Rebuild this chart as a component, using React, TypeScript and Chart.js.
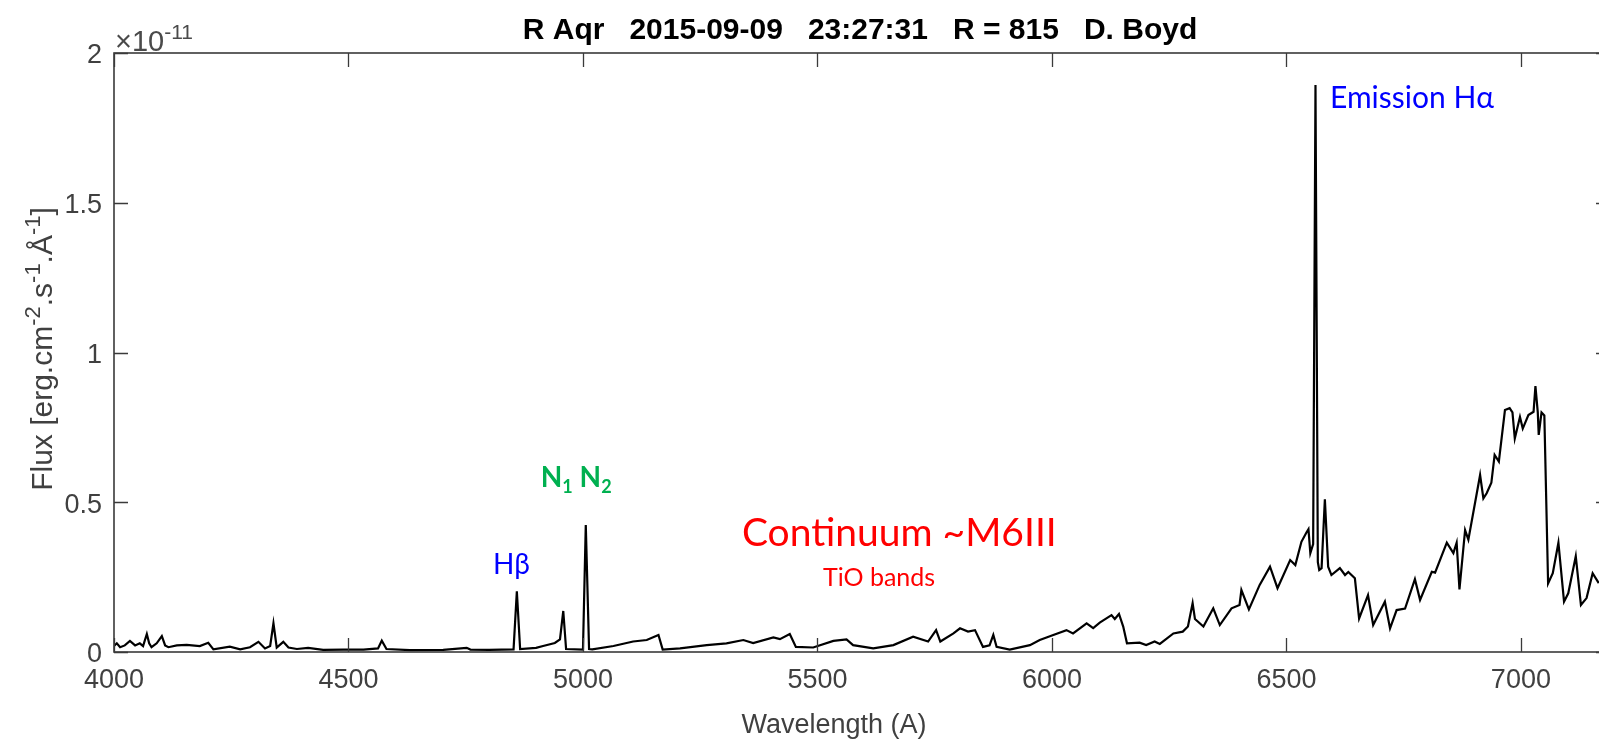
import { useEffect, useRef } from "react";
import { Chart, registerables } from "chart.js";

Chart.register(...registerables);

// Spectrum: wavelength (Angstrom) and flux (units of 1e-11 erg cm^-2 s^-1 A^-1)
const wavelengths = [
  4000, 4006, 4013, 4023, 4034, 4045, 4055, 4062, 4070, 4075, 4080, 4091, 4102, 4109, 4116, 4134,
  4155, 4183, 4201, 4212, 4247, 4269, 4290, 4308, 4322, 4333, 4340, 4347, 4361, 4372, 4390, 4414,
  4446, 4489, 4532, 4563, 4571, 4581, 4631, 4702, 4752, 4760, 4800, 4852, 4859, 4866, 4900, 4915,
  4940, 4951, 4958, 4964, 5000, 5006, 5013, 5020, 5065, 5107, 5136, 5161, 5170, 5207, 5264, 5306,
  5342, 5363, 5406, 5420, 5441, 5454, 5491, 5534, 5562, 5576, 5619, 5662, 5704, 5736, 5753, 5762,
  5790, 5804, 5821, 5836, 5853, 5867, 5875, 5882, 5910, 5953, 5974, 6000, 6031, 6045, 6074, 6088,
  6102, 6127, 6134, 6143, 6152, 6160, 6187, 6201, 6219, 6230, 6259, 6279, 6290, 6300, 6305, 6323,
  6344, 6358, 6383, 6400, 6404, 6420, 6443, 6465, 6481, 6508, 6519, 6532, 6543, 6547, 6551, 6557,
  6562, 6567, 6570, 6575, 6582, 6589, 6596, 6614, 6625, 6632, 6646, 6655, 6674, 6685, 6710, 6721,
  6735, 6753, 6774, 6785, 6810, 6817, 6842, 6856, 6863, 6869, 6881, 6888, 6913, 6920, 6927, 6937,
  6944, 6953, 6966, 6976, 6982, 6987, 6998, 7004, 7016, 7027, 7031, 7036, 7038, 7044, 7050, 7058,
  7068, 7080, 7092, 7101, 7117, 7128, 7140, 7153, 7166,
];

const flux = [
  0.020, 0.029, 0.016, 0.022, 0.037, 0.022, 0.029, 0.020, 0.060, 0.029, 0.016, 0.029, 0.053, 0.022, 0.016, 0.022,
  0.024, 0.020, 0.031, 0.009, 0.018, 0.009, 0.016, 0.034, 0.012, 0.020, 0.096, 0.015, 0.034, 0.015, 0.010, 0.014,
  0.007, 0.008, 0.008, 0.012, 0.038, 0.010, 0.006, 0.007, 0.014, 0.008, 0.007, 0.009, 0.203, 0.010, 0.014, 0.020,
  0.030, 0.042, 0.137, 0.010, 0.008, 0.424, 0.010, 0.009, 0.020, 0.035, 0.040, 0.057, 0.008, 0.012, 0.023, 0.029,
  0.040, 0.030, 0.049, 0.043, 0.060, 0.017, 0.015, 0.037, 0.042, 0.023, 0.012, 0.023, 0.051, 0.035, 0.073, 0.035,
  0.062, 0.079, 0.068, 0.073, 0.017, 0.022, 0.057, 0.017, 0.008, 0.023, 0.040, 0.055, 0.073, 0.062, 0.096, 0.080,
  0.098, 0.123, 0.110, 0.127, 0.085, 0.029, 0.031, 0.023, 0.035, 0.027, 0.062, 0.068, 0.085, 0.163, 0.110, 0.085,
  0.146, 0.090, 0.146, 0.157, 0.207, 0.142, 0.224, 0.285, 0.213, 0.307, 0.290, 0.368, 0.400, 0.410, 0.330, 0.360,
  1.893, 0.300, 0.274, 0.280, 0.510, 0.285, 0.257, 0.280, 0.257, 0.267, 0.246, 0.112, 0.190, 0.090, 0.168, 0.079,
  0.140, 0.145, 0.243, 0.174, 0.268, 0.265, 0.365, 0.330, 0.365, 0.209, 0.407, 0.375, 0.591, 0.513, 0.530, 0.565,
  0.658, 0.636, 0.808, 0.814, 0.800, 0.713, 0.785, 0.746, 0.791, 0.802, 0.888, 0.800, 0.725, 0.800, 0.790, 0.229,
  0.263, 0.365, 0.168, 0.196, 0.320, 0.157, 0.180, 0.263, 0.230,
];

const xTicks = [4000, 4500, 5000, 5500, 6000, 6500, 7000];
const yTicks = [0, 0.5, 1, 1.5, 2];
const xMin = 4000;
const xMax = 7190;
const yMin = 0;
const yMax = 2;

const titleText = "R Aqr   2015-09-09   23:27:31   R = 815   D. Boyd";
const xLabel = "Wavelength (A)";
const exponentBase = "\u00d710";
const exponentPower = "-11";

type Seg = { t: string; font: string; dy: number };

const AXIS_FONT = "Liberation Sans";
const NOTE_FONT = "Lato, 'Open Sans', sans-serif";

function drawRich(ctx: CanvasRenderingContext2D, segs: Seg[], x: number, y: number, align: "left" | "center") {
  const widths = segs.map((s) => {
    ctx.font = s.font;
    return ctx.measureText(s.t).width;
  });
  const total = widths.reduce((a, b) => a + b, 0);
  let cx = align === "center" ? x - total / 2 : x;
  ctx.textAlign = "left";
  ctx.textBaseline = "alphabetic";
  segs.forEach((s, i) => {
    ctx.font = s.font;
    ctx.fillText(s.t, cx, y + s.dy);
    cx += widths[i];
  });
}

const framePlugin = {
  id: "matlabFrame",
  afterDraw(chart: any) {
    const { ctx, chartArea } = chart;
    const xs = chart.scales.x;
    const ys = chart.scales.y;
    const { left, right, top, bottom } = chartArea;
    ctx.save();
    // Box
    ctx.strokeStyle = "#3a3a3a";
    ctx.lineWidth = 1.6;
    ctx.strokeRect(left, top, right - left, bottom - top);
    // Inward ticks
    const tl = 14;
    ctx.beginPath();
    xTicks.forEach((v) => {
      const px = Math.round(xs.getPixelForValue(v)) + 0.5;
      ctx.moveTo(px, bottom);
      ctx.lineTo(px, bottom - tl);
      ctx.moveTo(px, top);
      ctx.lineTo(px, top + tl);
    });
    yTicks.forEach((v) => {
      const py = Math.round(ys.getPixelForValue(v)) + 0.5;
      ctx.moveTo(left, py);
      ctx.lineTo(left + tl, py);
      ctx.moveTo(right, py);
      ctx.lineTo(right - tl, py);
    });
    ctx.lineWidth = 1.3;
    ctx.stroke();

    // Exponent
    ctx.fillStyle = "#4a4a4a";
    drawRich(
      ctx,
      [
        { t: exponentBase, font: `29px '${AXIS_FONT}'`, dy: 0 },
        { t: exponentPower, font: `21px '${AXIS_FONT}'`, dy: -12 },
      ],
      left + 1,
      top - 2,
      "left"
    );

    // Title
    ctx.fillStyle = "#000";
    drawRich(ctx, [{ t: titleText, font: `bold 30px '${AXIS_FONT}'`, dy: 0 }], 860, 39, "center");

    // X label
    ctx.fillStyle = "#404040";
    drawRich(ctx, [{ t: xLabel, font: `27px '${AXIS_FONT}'`, dy: 0 }], 834, 733, "center");

    // Y label (rotated)
    ctx.save();
    ctx.translate(52, 349);
    ctx.rotate(-Math.PI / 2);
    const big = `30px '${AXIS_FONT}'`;
    const sm = `22px '${AXIS_FONT}'`;
    drawRich(
      ctx,
      [
        { t: "Flux [erg.cm", font: big, dy: 0 },
        { t: "-2", font: sm, dy: -12 },
        { t: ".s", font: big, dy: 0 },
        { t: "-1", font: sm, dy: -12 },
        { t: ".\u00c5", font: big, dy: 0 },
        { t: "-1", font: sm, dy: -12 },
        { t: "]", font: big, dy: 0 },
      ],
      0,
      0,
      "center"
    );
    ctx.restore();

    // Annotations anchored in data coordinates
    const at = (w: number, f: number) => [xs.getPixelForValue(w), ys.getPixelForValue(f)];
    let p = at(6593, 1.816);
    ctx.fillStyle = "#0000ff";
    drawRich(ctx, [{ t: "Emission H\u03b1", font: `30px ${NOTE_FONT}`, dy: 0 }], p[0], p[1], "left");
    p = at(4808, 0.26);
    drawRich(ctx, [{ t: "H\u03b2", font: `28px ${NOTE_FONT}`, dy: 0 }], p[0], p[1], "left");
    p = at(4910, 0.551);
    ctx.fillStyle = "#00b050";
    drawRich(
      ctx,
      [
        { t: "N", font: `bold 28px ${NOTE_FONT}`, dy: 0 },
        { t: "1", font: `bold 18px ${NOTE_FONT}`, dy: 6 },
        { t: " N", font: `bold 28px ${NOTE_FONT}`, dy: 0 },
        { t: "2", font: `bold 18px ${NOTE_FONT}`, dy: 6 },
      ],
      p[0],
      p[1],
      "left"
    );
    ctx.fillStyle = "#ff0000";
    p = at(5339, 0.354);
    drawRich(ctx, [{ t: "Continuum ~M6III", font: `39px ${NOTE_FONT}`, dy: 0 }], p[0], p[1], "left");
    p = at(5512, 0.22);
    drawRich(ctx, [{ t: "TiO bands", font: `25px ${NOTE_FONT}`, dy: 0 }], p[0], p[1], "left");
    ctx.restore();
  },
};

export default function App() {
  const ref = useRef<HTMLCanvasElement>(null);
  useEffect(() => {
    const canvas = ref.current;
    if (!canvas) return;
    const chart = new Chart(canvas, {
      type: "line",
      data: {
        datasets: [
          {
            data: wavelengths.map((w, i) => ({ x: w, y: flux[i] })),
            borderColor: "#000000",
            borderWidth: 2.2,
            pointRadius: 0,
            tension: 0,
            fill: false,
          },
        ],
      },
      options: {
        animation: false,
        responsive: false,
        devicePixelRatio: 1,
        layout: { padding: { left: 0, right: 90, top: 53, bottom: 0 } },
        plugins: {
          legend: { display: false },
          tooltip: { enabled: false },
          title: { display: false },
        },
        scales: {
          x: {
            type: "linear",
            min: xMin,
            max: xMax,
            afterBuildTicks: (s: any) => {
              s.ticks = xTicks.map((v) => ({ value: v }));
            },
            afterFit: (s: any) => {
              s.height = 88;
            },
            grid: { display: false, drawTicks: false },
            border: { display: false },
            ticks: {
              font: { family: AXIS_FONT, size: 27 },
              color: "#404040",
              padding: 12,
              maxRotation: 0,
              autoSkip: false,
              callback: (v: any) => String(v),
            },
          },
          y: {
            type: "linear",
            min: yMin,
            max: yMax,
            afterBuildTicks: (s: any) => {
              s.ticks = yTicks.map((v) => ({ value: v }));
            },
            afterFit: (s: any) => {
              s.width = 114;
            },
            grid: { display: false, drawTicks: false },
            border: { display: false },
            ticks: {
              font: { family: AXIS_FONT, size: 27 },
              color: "#404040",
              padding: 12,
              labelOffset: 3,
              autoSkip: false,
              callback: (v: any) => String(v),
            },
          },
        },
      },
      plugins: [framePlugin],
    });
    return () => chart.destroy();
  }, []);

  return (
    <div
      style={{
        position: "fixed",
        left: 0,
        top: 0,
        width: 1599,
        height: 740,
        overflow: "hidden",
        background: "#ffffff",
      }}
    >
      <canvas ref={ref} width={1700} height={740} style={{ display: "block", width: 1700, height: 740 }} />
    </div>
  );
}
